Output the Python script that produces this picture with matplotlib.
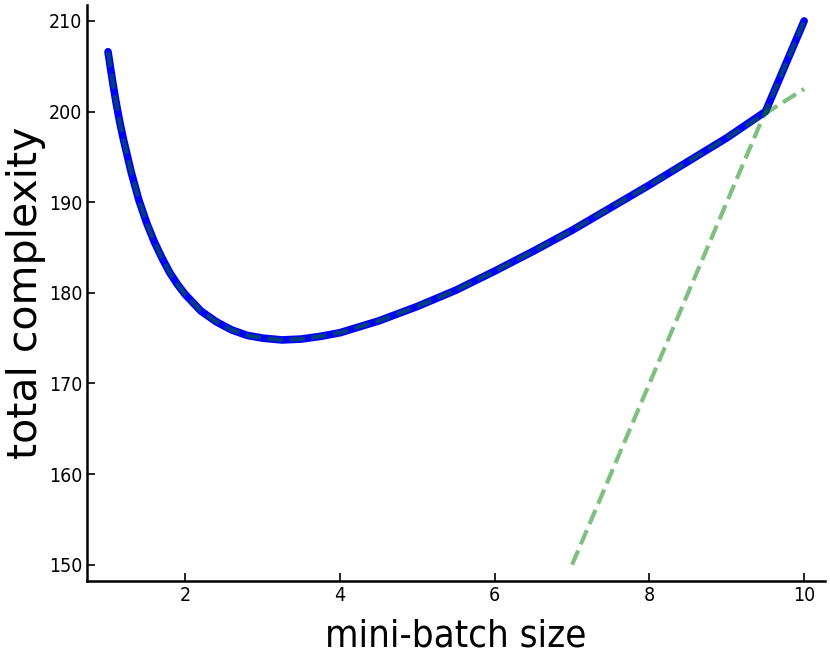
import matplotlib
matplotlib.use('Agg')
import matplotlib.pyplot as plt

plt.rcParams['font.family'] = 'DejaVu Sans'

# curve (mini-batch size -> total complexity)
batch_sizes = [1.0, 1.05, 1.1, 1.15, 1.2, 1.3, 1.4, 1.5, 1.6, 1.7, 1.8, 1.9, 2.0,
               2.2, 2.4, 2.6, 2.8, 3.0, 3.25, 3.5, 3.75, 4.0, 4.5, 5.0, 5.5, 6.0,
               6.5, 7.0, 7.5, 8.0, 8.5, 9.0, 9.5, 10.0]
smooth_cost = [206.6, 203.8, 201.2, 198.9, 196.9, 193.3, 190.2, 187.7, 185.6, 183.8,
               182.2, 180.9, 179.8, 178.0, 176.8, 175.9, 175.3, 175.0, 174.8, 174.9,
               175.2, 175.6, 176.9, 178.5, 180.3, 182.4, 184.6, 186.9, 189.4, 191.9,
               194.5, 197.1, 199.8, 202.5]

# steep linear branch
steep_x = [7.0, 10.0]
steep_cost = [150.0, 210.0]

# envelope (max of both branches)
total_x = batch_sizes
total_cost = smooth_cost[:-2] + [200.0, 210.0]

fig = plt.figure(figsize=(8.3, 6.64), dpi=100)
ax = fig.add_axes([0.105, 0.125, 0.889, 0.868])

ax.plot(total_x, total_cost, color='blue', lw=5.5, solid_capstyle='round',
        solid_joinstyle='round')
ax.plot(batch_sizes, smooth_cost, color='g', lw=3, ls='--', alpha=0.5)
ax.plot(steep_x, steep_cost, color='g', lw=3, ls='--', alpha=0.5)

ax.margins(0.03)
ax.set_xticks([2, 4, 6, 8, 10])
ax.set_yticks([150, 160, 170, 180, 190, 200, 210])

ax.spines['top'].set_visible(False)
ax.spines['right'].set_visible(False)
ax.spines['left'].set_linewidth(1.8)
ax.spines['bottom'].set_linewidth(1.8)
ax.tick_params(direction='in', length=6, width=1.2, labelsize=14,
               top=False, right=False)
for lbl in ax.get_xticklabels() + ax.get_yticklabels():
    lbl.set_fontstretch('condensed')

ax.set_xlabel('mini-batch size', fontsize=27.5, fontstretch='condensed', labelpad=10)
ax.set_ylabel('total complexity', fontsize=29.5, labelpad=2)

fig.savefig('out.png', dpi=100)
